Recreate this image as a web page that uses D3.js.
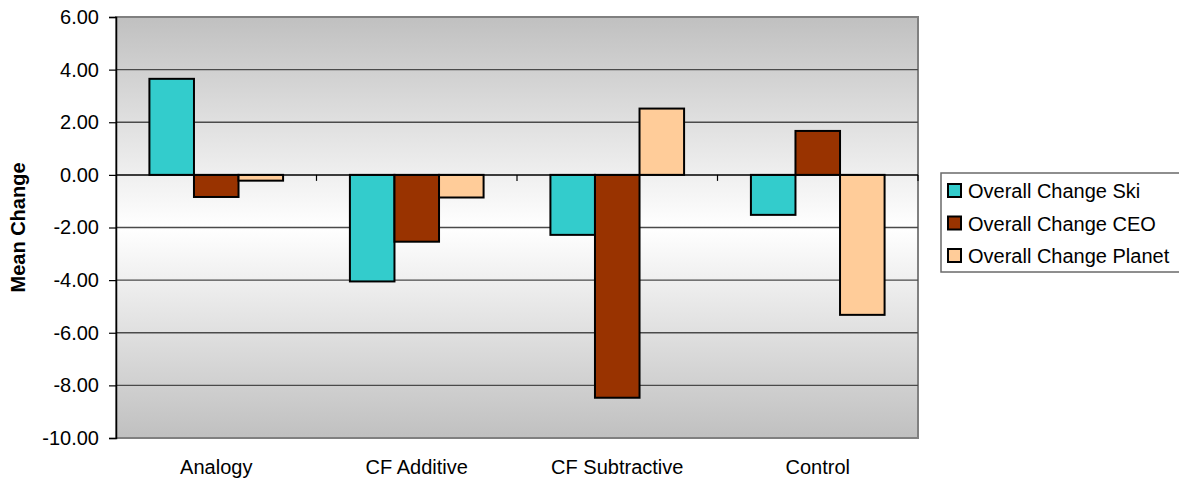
<!DOCTYPE html>
<html>
<head>
<meta charset="utf-8">
<script src="https://cdn.jsdelivr.net/npm/d3@7"></script>
<style>
  html, body { margin: 0; padding: 0; background: #fff; }
  svg { display: block; font-family: "Liberation Sans", Arial, sans-serif; }
</style>
</head>
<body>
<svg id="chart" width="1179" height="482"></svg>
<script>
// Conditions along the x axis
const categories = ["Analogy", "CF Additive", "CF Subtractive", "Control"];
// Series names and their mean change per condition
const seriesNames = ["Overall Change Ski", "Overall Change CEO", "Overall Change Planet"];
const skiValues = [3.65, -4.05, -2.28, -1.52];
const ceoValues = [-0.84, -2.54, -8.47, 1.67];
const planetValues = [-0.22, -0.86, 2.52, -5.32];
const seriesColors = ["#33cccc", "#993300", "#ffcc99"];
const yTicks = [6, 4, 2, 0, -2, -4, -6, -8, -10];

const seriesValues = [skiValues, ceoValues, planetValues];
const FONT = "'Liberation Sans', Arial, sans-serif";

const svg = d3.select("#chart");
const plot = { left: 116, top: 17, right: 918, bottom: 438 };

// Background gradient: grey at top and bottom, white in the middle
const defs = svg.append("defs");
const grad = defs.append("linearGradient")
  .attr("id", "bg").attr("x1", 0).attr("y1", 0).attr("x2", 0).attr("y2", 1);
grad.append("stop").attr("offset", "0%").attr("stop-color", "#c0c0c0");
grad.append("stop").attr("offset", "50%").attr("stop-color", "#ffffff");
grad.append("stop").attr("offset", "100%").attr("stop-color", "#c0c0c0");

const y = d3.scaleLinear().domain([-10, 6]).range([plot.bottom, plot.top]);
const x0 = d3.scaleBand().domain(categories).range([plot.left, plot.right]).paddingInner(0).paddingOuter(0);
// Excel-like gap width of 150% between groups
const gapRatio = 1.5;
const barW = x0.bandwidth() / (seriesNames.length + gapRatio);
const x1 = d3.scaleBand().domain(seriesNames)
  .range([0, barW * seriesNames.length]);

svg.append("rect")
  .attr("x", plot.left).attr("y", plot.top)
  .attr("width", plot.right - plot.left).attr("height", plot.bottom - plot.top)
  .attr("fill", "url(#bg)")
  .attr("stroke", "#808080").attr("stroke-width", 2);

// Horizontal gridlines
svg.append("g").selectAll("line")
  .data(yTicks.filter(t => t !== 6 && t !== -10 && t !== 0))
  .join("line")
  .attr("x1", plot.left).attr("x2", plot.right)
  .attr("y1", d => y(d)).attr("y2", d => y(d))
  .attr("stroke", "#4a4a4a").attr("stroke-width", 1.4);

// Y axis with tick labels (plain hyphen for negatives)
const fmt = d => d3.format(".2f")(d).replace("\u2212", "-");
const yAxis = d3.axisLeft(y).tickValues(yTicks).tickFormat(fmt).tickSize(7).tickPadding(10);
const gy = svg.append("g").attr("transform", `translate(${plot.left},0)`).call(yAxis);
gy.attr("font-family", FONT).attr("font-size", 20);
gy.select(".domain").attr("stroke", "#000").attr("stroke-width", 1.5);
gy.selectAll(".tick line").attr("stroke", "#000").attr("stroke-width", 1.2);
gy.selectAll(".tick text").attr("fill", "#000");

// Bars
const groups = svg.append("g").selectAll("g")
  .data(categories)
  .join("g")
  .attr("transform", d => `translate(${x0(d) + (x0.bandwidth() - barW * seriesNames.length) / 2},0)`);

groups.selectAll("rect")
  .data((c, i) => seriesNames.map((s, j) => ({ s, v: seriesValues[j][i], color: seriesColors[j] })))
  .join("rect")
  .attr("x", d => x1(d.s))
  .attr("width", x1.bandwidth())
  .attr("y", d => y(Math.max(0, d.v)))
  .attr("height", d => Math.abs(y(d.v) - y(0)))
  .attr("fill", d => d.color)
  .attr("stroke", "#000").attr("stroke-width", 2);

// Zero line with category separator ticks
svg.append("line")
  .attr("x1", plot.left).attr("x2", plot.right)
  .attr("y1", y(0)).attr("y2", y(0))
  .attr("stroke", "#000").attr("stroke-width", 1.5);
svg.append("g").selectAll("line")
  .data(categories)
  .join("line")
  .attr("x1", d => x0(d) + x0.bandwidth())
  .attr("x2", d => x0(d) + x0.bandwidth())
  .attr("y1", y(0)).attr("y2", y(0) + 6)
  .attr("stroke", "#000").attr("stroke-width", 1.2);

// Category labels
svg.append("g").selectAll("text")
  .data(categories)
  .join("text")
  .attr("x", d => x0(d) + x0.bandwidth() / 2)
  .attr("y", 474)
  .attr("text-anchor", "middle")
  .attr("font-size", 20)
  .text(d => d);

// Y axis title
svg.append("text")
  .attr("transform", `translate(25, ${(plot.top + plot.bottom) / 2}) rotate(-90)`)
  .attr("text-anchor", "middle")
  .attr("font-size", 20)
  .attr("font-weight", "bold")
  .text("Mean Change");

// Legend
const legend = svg.append("g").attr("transform", "translate(941,173)");
legend.append("rect")
  .attr("width", 240).attr("height", 99)
  .attr("fill", "#fff").attr("stroke", "#6a6a6a").attr("stroke-width", 1.5);
const items = legend.selectAll("g.item")
  .data(seriesNames)
  .join("g").attr("class", "item")
  .attr("transform", (d, i) => `translate(0, ${18 + i * 32.5})`);
items.append("rect")
  .attr("x", 7).attr("y", -7).attr("width", 13).attr("height", 13)
  .attr("fill", (d, i) => seriesColors[i])
  .attr("stroke", "#000").attr("stroke-width", 2);
items.append("text")
  .attr("x", 27).attr("y", 7)
  .attr("font-size", 20)
  .text(d => d);
</script>
</body>
</html>
